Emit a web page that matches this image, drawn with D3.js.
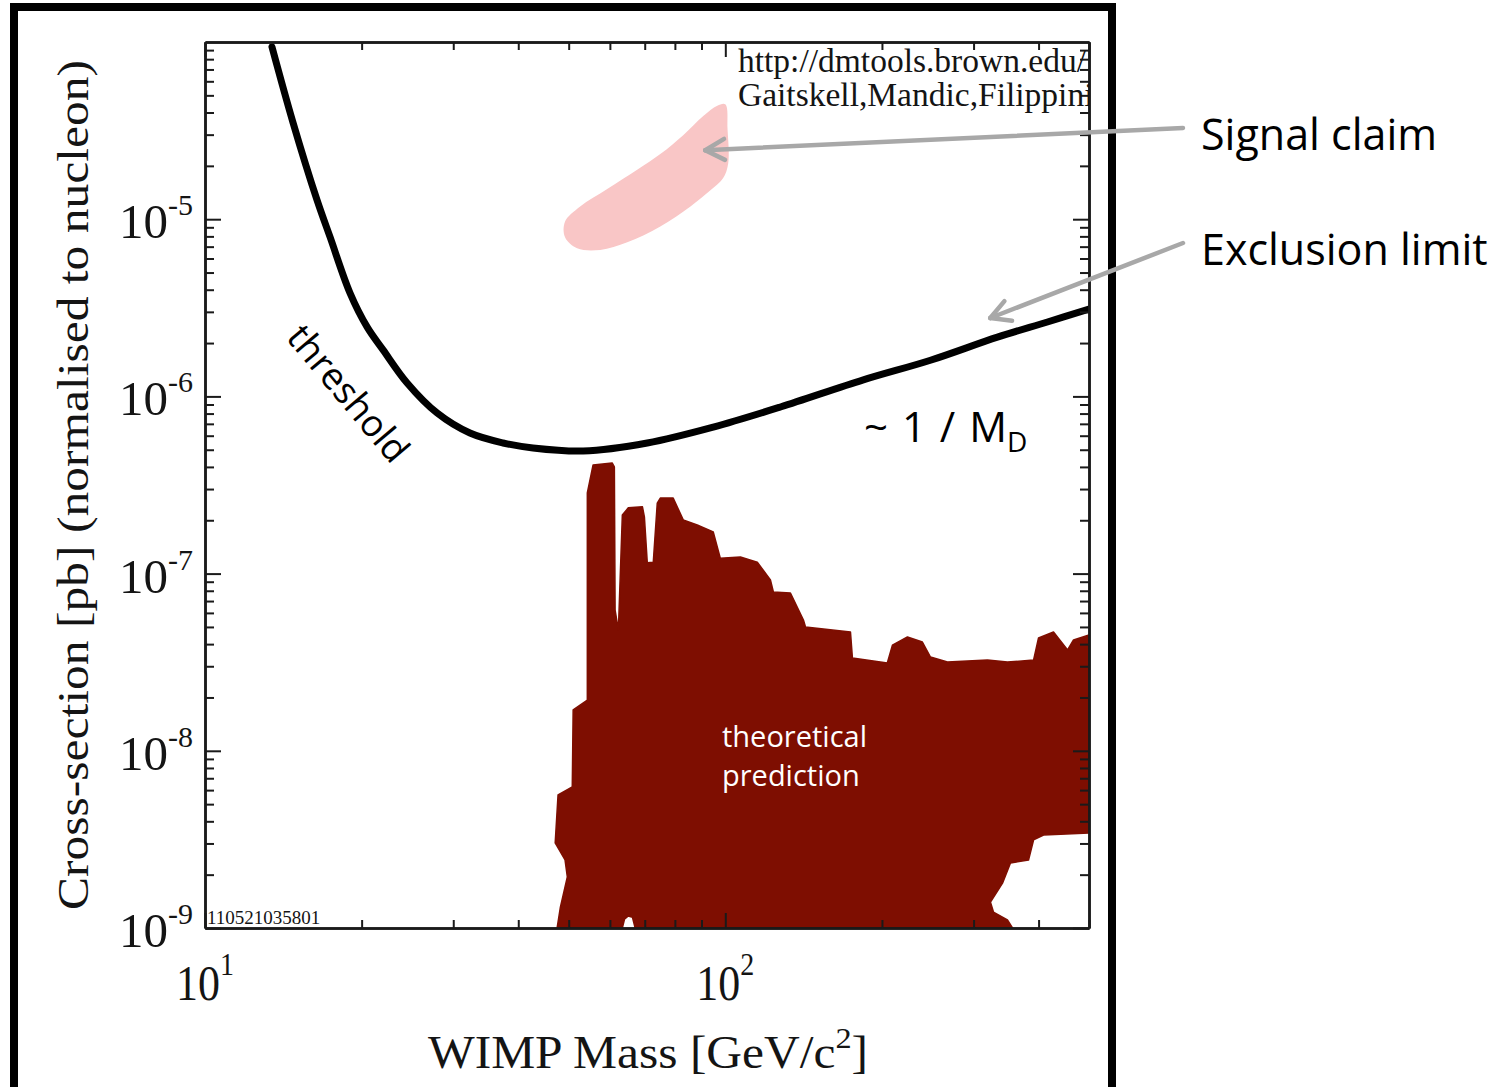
<!DOCTYPE html>
<html>
<head>
<meta charset="utf-8">
<script src="https://cdn.jsdelivr.net/npm/d3@7"></script>
<style>
body { margin: 0; background: #fff; }
svg { display: block; }
.serif { font-family: "Liberation Serif", "Times New Roman", serif; fill: #141414; }
.sans { font-family: "Open Sans", Lato, sans-serif; }
.axis path, .axis line { stroke: #1a1a1a; stroke-width: 2; }
</style>
</head>
<body>
<svg id="chart" width="1506" height="1087"></svg>
<script>
// exclusion limit (mass in GeV/c^2, cross-section in pb)
var limitMass  = [13.45, 14.77, 16.42, 17.39, 19.0, 20.5, 21.99, 24.46, 27.94, 32.3, 37.4, 42.7, 53.3, 70.8, 94.8, 127.6, 184.2, 247.9, 333.4, 416, 500];
var limitSigma = [9.38e-5, 3.49e-5, 1.28e-5, 7.94e-6, 3.83e-6, 2.46e-6, 1.83e-6, 1.19e-6, 8.05e-7, 6.21e-7, 5.46e-7, 5.12e-7, 4.92e-7, 5.46e-7, 6.71e-7, 8.71e-7, 1.24e-6, 1.60e-6, 2.16e-6, 2.63e-6, 3.11e-6];

// signal claim region outline
var signalMass  = [100.0, 101.0, 101.3, 99.0, 93.5, 85.7, 75.0, 64.8, 57.5, 51.9, 49.2, 49.2, 52.6, 59.3, 67.7, 75.0, 83.0, 90.7, 96.5];
var signalSigma = [4.45e-5, 3.20e-5, 2.07e-5, 1.70e-5, 1.45e-5, 1.18e-5, 9.10e-6, 7.40e-6, 6.70e-6, 6.85e-6, 7.90e-6, 9.70e-6, 1.18e-5, 1.48e-5, 1.90e-5, 2.33e-5, 2.98e-5, 3.82e-5, 4.37e-5];

// theoretical prediction region outline
var theoryMass = [47.5, 48.2, 49.7, 49.2, 47.1, 47.7, 50.8, 51.0, 54.3, 54.3, 55.7, 60.6, 61.2, 61.4, 62.3, 63.4, 65.1, 69.3, 69.9, 70.8,
  72.7, 74.0, 75.0, 79.4, 83.0, 88.3, 94.8, 97.8, 106.9, 115.2, 122.1, 123.7, 133.4, 141.3, 142.6, 174.0, 175.5, 204.8, 209.5, 223.9,
  239.2, 247.9, 267.3, 319.0, 348.5, 391.2, 399.9, 427.3, 454.8, 466.9, 500, 500, 408.9, 391.2, 382.6, 353.2, 341.0, 323.3, 327.6, 348.5,
  356.4, 67.1, 66.3, 65.1, 64.0, 63.4];
var theorySigma = [1.0e-9, 1.31e-9, 1.94e-9, 2.42e-9, 3.02e-9, 5.63e-9, 6.25e-9, 1.70e-8, 1.93e-8, 2.85e-7, 4.10e-7, 4.21e-7, 4.00e-7, 6.23e-8, 4.80e-8, 2.14e-7, 2.35e-7, 2.38e-7, 2.09e-7, 1.15e-7,
  1.16e-7, 2.50e-7, 2.67e-7, 2.67e-7, 2.01e-7, 1.88e-7, 1.72e-7, 1.22e-7, 1.24e-7, 1.16e-7, 9.20e-8, 7.87e-8, 7.77e-8, 5.47e-8, 5.00e-8, 4.68e-8, 3.34e-8, 3.13e-8, 3.95e-8, 4.39e-8,
  4.11e-8, 3.38e-8, 3.17e-8, 3.25e-8, 3.17e-8, 3.25e-8, 4.33e-8, 4.68e-8, 3.71e-8, 4.22e-8, 4.50e-8, 3.44e-9, 3.35e-9, 3.14e-9, 2.42e-9, 2.33e-9, 1.79e-9, 1.40e-9, 1.23e-9, 1.11e-9,
  1.0e-9, 1.0e-9, 1.15e-9, 1.17e-9, 1.12e-9, 1.0e-9];

var xMajor = [10, 100];
var xExp = ["1", "2"];
var yMajor = [1e-9, 1e-8, 1e-7, 1e-6, 1e-5];
var yExp = ["-9", "-8", "-7", "-6", "-5"];

// annotation arrows: tips in data space
var arrowLabels = ["Signal claim", "Exclusion limit"];
var arrowTipMass = [91.5, 323];
var arrowTipSigma = [2.45e-5, 2.77e-6];

var svg = d3.select("#chart");
var margin = {left: 205, top: 42};
var W = 884, H = 886;

var x = d3.scaleLog().domain([10, 500]).range([0, W]);
var y = d3.scaleLog().domain([1e-9, 1e-4]).range([H, 0]);

// outer frame
svg.append("rect")
  .attr("x", 14).attr("y", 7)
  .attr("width", 1098).attr("height", 1200)
  .style("fill", "none").style("stroke", "#000").style("stroke-width", 8);

var plot = svg.append("g").attr("transform", "translate(" + margin.left + "," + margin.top + ")");

plot.append("clipPath").attr("id", "clip")
  .append("rect").attr("width", W).attr("height", H);

var area = plot.append("g").attr("clip-path", "url(#clip)");

var signal = d3.zip(signalMass, signalSigma);
area.append("path")
  .datum(signal)
  .attr("d", d3.line().x(d => x(d[0])).y(d => y(d[1])).curve(d3.curveCatmullRomClosed.alpha(0.5)))
  .style("fill", "#f9c6c6");

var theory = d3.zip(theoryMass, theorySigma);
area.append("path")
  .datum(theory)
  .attr("d", d => d3.line().x(p => x(p[0])).y(p => y(p[1]))(d) + "Z")
  .style("fill", "#7e0e01")
  .style("stroke", "#7e0e01")
  .style("stroke-width", 1.5)
  .style("stroke-linejoin", "round");

var limit = d3.zip(limitMass, limitSigma);
area.append("path")
  .datum(limit)
  .attr("d", d3.line().x(d => x(d[0])).y(d => y(d[1])).curve(d3.curveCatmullRom.alpha(0.5)))
  .style("fill", "none")
  .style("stroke", "#000")
  .style("stroke-width", 7)
  .style("stroke-linecap", "round")
  .style("stroke-linejoin", "round");

// ticks on all four sides, pointing inward
var xMinor = x.ticks().filter(v => xMajor.indexOf(v) < 0);
var yMinor = y.ticks().filter(v => yMajor.indexOf(v) < 0 && v < 1e-4);

function side(axisFn, scale, vals, size, tr) {
  plot.append("g").attr("class", "axis").attr("transform", tr)
    .call(axisFn(scale).tickValues(vals).tickSize(-size).tickSizeOuter(0).tickFormat(""));
}
side(d3.axisBottom, x, xMajor, 15, "translate(0," + H + ")");
side(d3.axisBottom, x, xMinor, 8, "translate(0," + H + ")");
side(d3.axisTop, x, xMajor, 15, "translate(0,0)");
side(d3.axisTop, x, xMinor, 8, "translate(0,0)");
side(d3.axisLeft, y, yMajor, 16, "translate(0,0)");
side(d3.axisLeft, y, yMinor, 9, "translate(0,0)");
side(d3.axisRight, y, yMajor, 16, "translate(" + W + ",0)");
side(d3.axisRight, y, yMinor, 9, "translate(" + W + ",0)");
plot.selectAll(".axis .domain").style("stroke-width", 2.5);

// tick labels with superscript powers
yMajor.forEach(function (v, i) {
  var t = plot.append("text").attr("class", "serif")
    .attr("x", -12).attr("y", y(v) + 19)
    .attr("text-anchor", "end")
    .style("font-size", "49px");
  t.append("tspan").text("10");
  t.append("tspan").attr("dy", -23).style("font-size", "30px").text(yExp[i]);
});

xMajor.forEach(function (v, i) {
  var t = plot.append("text").attr("class", "serif")
    .attr("transform", "translate(" + (x(v) - 29) + "," + (H + 72) + ") scale(1,1.15)")
    .style("font-size", "44px");
  t.append("tspan").text("10");
  t.append("tspan").attr("dy", -22).style("font-size", "28px").text(xExp[i]);
});

// axis titles
var xt = svg.append("text").attr("class", "serif")
  .attr("x", 428).attr("y", 1068)
  .attr("textLength", 440).attr("lengthAdjust", "spacingAndGlyphs")
  .style("font-size", "46px");
xt.append("tspan").text("WIMP Mass [GeV/c");
xt.append("tspan").attr("dy", -20).style("font-size", "30px").text("2");
xt.append("tspan").attr("dy", 20).text("]");

svg.append("text").attr("class", "serif")
  .attr("transform", "translate(88,485) rotate(-90)")
  .attr("text-anchor", "middle")
  .attr("textLength", 850).attr("lengthAdjust", "spacingAndGlyphs")
  .style("font-size", "45px")
  .text("Cross-section [pb] (normalised to nucleon)");

// text inside the plot
var inner = plot.append("g").attr("clip-path", "url(#clip)");
inner.append("text").attr("class", "serif")
  .attr("x", 533).attr("y", 30).style("font-size", "33.5px")
  .text("http://dmtools.brown.edu/");
inner.append("text").attr("class", "serif")
  .attr("x", 533).attr("y", 64).style("font-size", "33.5px")
  .text("Gaitskell,Mandic,Filippini");
inner.append("text").attr("class", "serif")
  .attr("x", 2).attr("y", H - 4).style("font-size", "19px")
  .text("110521035801");

svg.append("text").attr("class", "sans")
  .attr("transform", "translate(285,338) rotate(50)")
  .style("font-size", "37px").style("fill", "#000")
  .text("threshold");

var md = svg.append("text").attr("class", "sans")
  .attr("x", 864).attr("y", 442)
  .style("font-size", "42px").style("fill", "#000")
  .style("word-spacing", "3px");
md.append("tspan").text("~ 1 / M");
md.append("tspan").attr("dy", 10).style("font-size", "28px").text("D");

svg.append("text").attr("class", "sans")
  .attr("x", 722).attr("y", 747)
  .style("font-size", "29px").style("fill", "#fff")
  .text("theoretical");
svg.append("text").attr("class", "sans")
  .attr("x", 722).attr("y", 786)
  .style("font-size", "29px").style("fill", "#fff")
  .text("prediction");

// annotation labels with grey arrows
var labelY = [150, 265];
arrowLabels.forEach(function (lab, i) {
  svg.append("text").attr("class", "sans")
    .attr("x", 1201).attr("y", labelY[i])
    .style("font-size", "43px").style("fill", "#000")
    .text(lab);
  var x0 = 1183, y0 = labelY[i] - 22;
  var x1 = margin.left + x(arrowTipMass[i]);
  var y1 = margin.top + y(arrowTipSigma[i]);
  var ang = Math.atan2(y0 - y1, x0 - x1);
  var g = svg.append("g")
    .style("stroke", "#a8a8a8").style("stroke-width", 4.5)
    .style("stroke-linecap", "round").style("fill", "none");
  g.append("line").attr("x1", x0).attr("y1", y0).attr("x2", x1).attr("y2", y1);
  [-0.5, 0.5].forEach(function (da) {
    g.append("line")
      .attr("x1", x1).attr("y1", y1)
      .attr("x2", x1 + 22 * Math.cos(ang + da))
      .attr("y2", y1 + 22 * Math.sin(ang + da));
  });
});
</script>
</body>
</html>
